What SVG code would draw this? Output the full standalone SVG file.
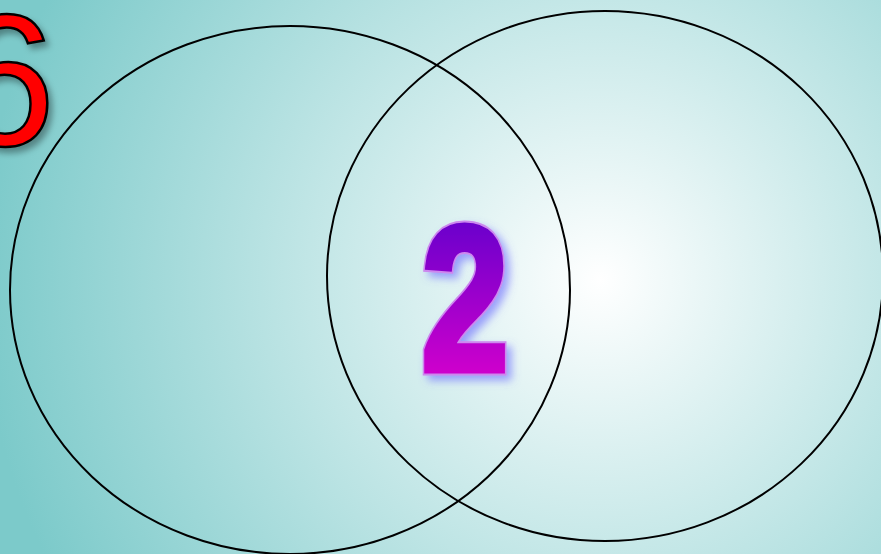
<svg xmlns="http://www.w3.org/2000/svg" width="881" height="554" viewBox="0 0 881 554">
  <defs>
    <radialGradient id="bg" gradientUnits="userSpaceOnUse" cx="600" cy="280" r="620">
      <stop offset="0" stop-color="#ffffff"/>
      <stop offset="1" stop-color="#7ccaca"/>
    </radialGradient>
    <linearGradient id="g2" gradientUnits="userSpaceOnUse" x1="0" y1="-155" x2="0" y2="0">
      <stop offset="0" stop-color="#6600cc"/>
      <stop offset="1" stop-color="#cc00cc"/>
    </linearGradient>
    <filter id="shadow6" x="-30%" y="-30%" width="160%" height="160%">
      <feGaussianBlur in="SourceAlpha" stdDeviation="3"/>
      <feOffset dx="4" dy="5" result="b"/>
      <feFlood flood-color="#000000" flood-opacity="0.35"/>
      <feComposite in2="b" operator="in"/>
      <feMerge><feMergeNode/><feMergeNode in="SourceGraphic"/></feMerge>
    </filter>
    <filter id="glow2" x="-40%" y="-30%" width="180%" height="160%">
      <feGaussianBlur in="SourceAlpha" stdDeviation="4"/>
      <feOffset dx="5" dy="5" result="b"/>
      <feFlood flood-color="#6666ff" flood-opacity="0.6"/>
      <feComposite in2="b" operator="in"/>
      <feMerge><feMergeNode/><feMergeNode in="SourceGraphic"/></feMerge>
    </filter>
    <style>
      .ring { fill: none; stroke: #000; stroke-width: 2; }
      .two { font-family: "Liberation Sans", Arial, sans-serif; font-weight: bold; font-size: 206px; }
    </style>
  </defs>
  <rect x="0" y="0" width="881" height="554" fill="url(#bg)"/>
  <g id="circle-left">
    <ellipse class="ring" cx="290" cy="290" rx="280" ry="264"/>
  </g>
  <g id="circle-right">
    <ellipse class="ring" cx="605" cy="276" rx="278" ry="265"/>
  </g>
  <g id="label-6" filter="url(#shadow6)">
    <text x="-49" y="145" font-family="Liberation Sans, Arial, sans-serif" font-size="188" fill="#ff0000" stroke="#000" stroke-width="2.5">6</text>
  </g>
  <g id="label-2" filter="url(#glow2)">
    <g transform="translate(465 370) scale(0.76 1)">
      <text class="two" x="0" y="0" text-anchor="middle" fill="#cc88ee" stroke="#cc88ee" stroke-width="11" stroke-linejoin="miter">2</text>
      <text class="two" x="0" y="0" text-anchor="middle" fill="url(#g2)" stroke="url(#g2)" stroke-width="7" stroke-linejoin="miter">2</text>
    </g>
  </g>
</svg>
